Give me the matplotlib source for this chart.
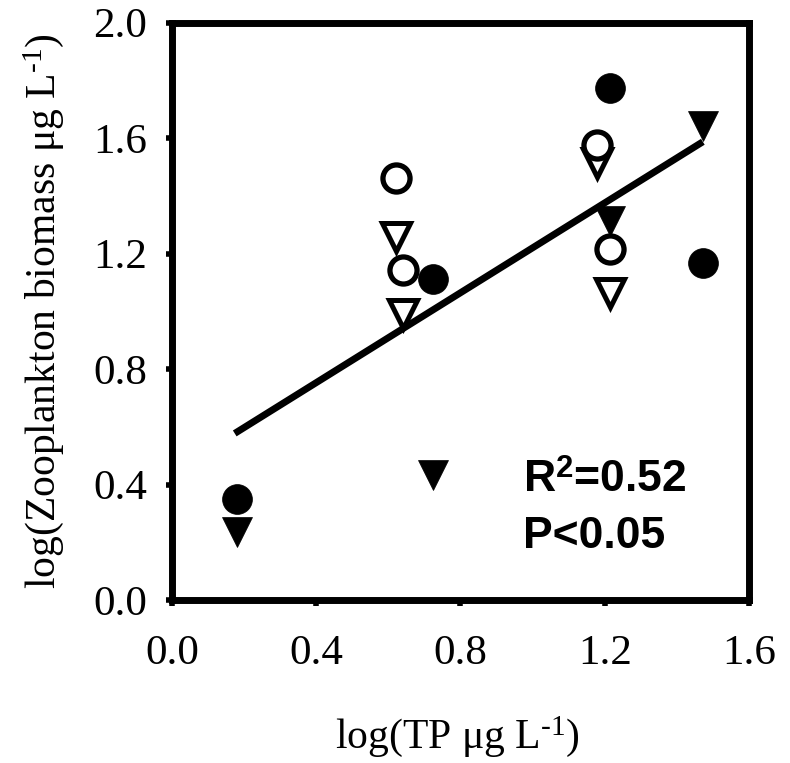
import matplotlib
matplotlib.use("Agg")
import matplotlib.pyplot as plt
import numpy as np

plt.rcParams['mathtext.fontset'] = 'custom'
plt.rcParams['mathtext.rm'] = 'Liberation Serif'
plt.rcParams['mathtext.it'] = 'Liberation Serif:italic'
plt.rcParams['mathtext.bf'] = 'Liberation Sans:bold'

# Filled circles
fc_x = [0.179, 0.723, 1.214, 1.472]
fc_y = [0.350, 1.111, 1.772, 1.166]
# Filled triangles
ft_x = [0.179, 0.723, 1.214, 1.472]
ft_y = [0.237, 0.433, 1.314, 1.640]
# Open circles
oc_x = [0.622, 0.641, 1.179, 1.214]
oc_y = [1.460, 1.143, 1.576, 1.214]
# Open triangles
ot_x = [0.622, 0.641, 1.179, 1.214]
ot_y = [1.258, 0.992, 1.512, 1.064]
# Regression line
fit_x = [0.174, 1.472]
fit_y = [0.577, 1.587]

xticks = [0.0, 0.4, 0.8, 1.2, 1.6]
yticks = [0.0, 0.4, 0.8, 1.2, 1.6, 2.0]

fig = plt.figure(figsize=(7.9, 7.63), dpi=100)
ax = fig.add_axes([0.2177, 0.2136, 0.7304, 0.7569])

ax.plot(fit_x, fit_y, color='black', lw=5, solid_capstyle='butt', zorder=2)
ax.plot(ot_x, ot_y, linestyle='none', marker='v', ms=20, mfc='white', mec='black', mew=3.6, zorder=3)
ax.plot(oc_x, oc_y, linestyle='none', marker='o', ms=19.5, mfc='white', mec='black', mew=3.8, zorder=4)
ax.plot(ft_x, ft_y, linestyle='none', marker='v', ms=21, mfc='black', mec='black', mew=0.5, zorder=5)
ax.plot(fc_x, fc_y, linestyle='none', marker='o', ms=21.5, mfc='black', mec='black', mew=0.5, zorder=5)

ax.set_xlim(0, 1.6)
ax.set_ylim(0, 2.0)
ax.set_xticks(xticks)
ax.set_yticks(yticks)
ax.set_xticklabels([f"{v:.1f}" for v in xticks])
ax.set_yticklabels([f"{v:.1f}" for v in yticks])

for s in ax.spines.values():
    s.set_linewidth(5)
ax.tick_params(axis='both', direction='out', length=4, width=4, labelsize=31,
               top=False, right=False)
ax.tick_params(axis='x', pad=21)
ax.tick_params(axis='y', pad=14)
for lab in ax.get_xticklabels() + ax.get_yticklabels():
    lab.set_fontfamily('Liberation Serif')

ax.set_xlabel(r'log(TP μg L$^{\text{-1}}$)', fontsize=30, family='Liberation Serif')
ax.set_ylabel(r'log(Zooplankton biomass μg L$^{\text{-1}}$)', fontsize=30, family='Liberation Serif')
ax.xaxis.set_label_coords(0.495, -0.198)
ax.yaxis.set_label_coords(-0.184, 0.5)

ax.text(0.974, 0.375, r'R$^{\mathbf{2}}$=0.52', fontsize=32, fontweight='bold', family='Liberation Sans',
        ha='left', va='baseline')
ax.text(0.974, 0.179, 'P<0.05', fontsize=32, fontweight='bold', family='Liberation Sans',
        ha='left', va='baseline')

fig.savefig('out.png', dpi=100)
